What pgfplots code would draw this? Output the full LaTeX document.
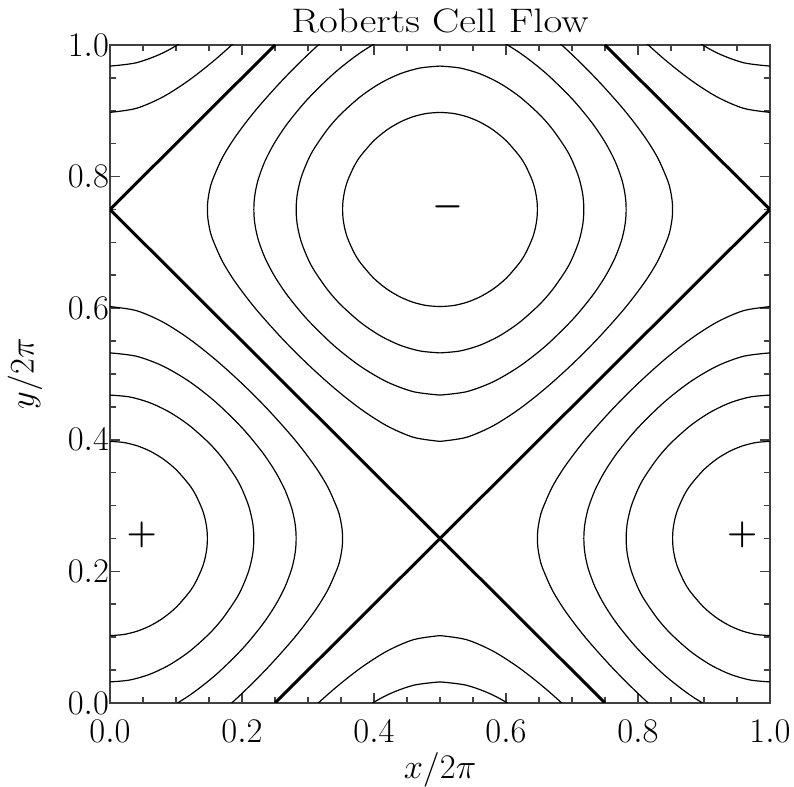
\documentclass[border=0pt]{standalone}
\usepackage{graphicx}
\usepackage{pgfplots}
\usepackage{pgfplotstable}
\pgfplotsset{compat=1.18}

% half contour loops of psi = cos(2 pi x) + sin(2 pi y) around the centre (0,0.25)
% level 1.6
\pgfplotstableread{
x y
0 0.10242
0.02 0.10399
0.04 0.10876
0.06 0.11690
0.08 0.12877
0.10 0.14521
0.12 0.16827
0.13 0.18408
0.14 0.20632
0.14454 0.22222
0.14683 0.23611
0.14758 0.25
0.14683 0.26389
0.14454 0.27778
0.14 0.29368
0.13 0.31592
0.12 0.33173
0.10 0.35479
0.08 0.37123
0.06 0.38310
0.04 0.39124
0.02 0.39601
0 0.39758
}\ca
% level 1.2
\pgfplotstableread{
x y
0 0.03205
0.03 0.03493
0.06 0.04356
0.09 0.05787
0.12 0.07806
0.15 0.10486
0.17 0.12753
0.19 0.15636
0.20 0.17499
0.21 0.20013
0.21548 0.22222
0.21733 0.23611
0.21795 0.25
0.21733 0.26389
0.21548 0.27778
0.21 0.29987
0.20 0.32501
0.19 0.34364
0.17 0.37247
0.15 0.39514
0.12 0.42194
0.09 0.44213
0.06 0.45644
0.03 0.46507
0 0.46795
}\cb
% level 0.8
\pgfplotstableread{
x y
0 -0.03205
0.04 -0.02696
0.08 -0.01216
0.12 0.01131
0.16 0.04255
0.20 0.08169
0.23 0.11786
0.25 0.14758
0.265 0.17612
0.275 0.20285
0.27958 0.22222
0.28143 0.23611
0.28205 0.25
0.28143 0.26389
0.27958 0.27778
0.275 0.29715
0.265 0.32388
0.25 0.35242
0.23 0.38214
0.20 0.41831
0.16 0.45745
0.12 0.48869
0.08 0.51216
0.04 0.52696
0 0.53205
}\cc
% level 0.4
\pgfplotstableread{
x y
0 -0.10242
0.04 -0.09626
0.08 -0.07902
0.12 -0.05335
0.16 -0.02168
0.20 0.01450
0.24 0.05474
0.28 0.09992
0.31 0.13941
0.33 0.17182
0.345 0.20610
0.34941 0.22222
0.35166 0.23611
0.35242 0.25
0.35166 0.26389
0.34941 0.27778
0.345 0.29390
0.33 0.32818
0.31 0.36059
0.28 0.40008
0.24 0.44526
0.20 0.48550
0.16 0.52168
0.12 0.55335
0.08 0.57902
0.04 0.59626
0 0.60242
}\cd

\pgfplotsset{ct/.style={black, line width=0.6pt, smooth, no markers}}

\begin{document}
\begin{tikzpicture}
\begin{axis}[
  scale only axis, width=330pt, height=329pt,
  xmin=0, xmax=1, ymin=0, ymax=1,
  xtick={0,0.2,0.4,0.6,0.8,1.0},
  ytick={0,0.2,0.4,0.6,0.8,1.0},
  minor tick num=3,
  tick align=inside,
  major tick length=5pt, minor tick length=3pt,
  tick style={black!75, line width=0.8pt},
  axis line style={black!75, line width=1pt},
  xticklabel style={font=\fontsize{16}{19}\selectfont, yshift=-5pt},
  yticklabel style={font=\fontsize{16}{19}\selectfont, xshift=3pt},
  xticklabel={\pgfmathprintnumber[fixed,fixed zerofill,precision=1]{\tick}},
  yticklabel={\pgfmathprintnumber[fixed,fixed zerofill,precision=1]{\tick}},
  title={\scalebox{1.2}[1]{Roberts Cell Flow}},
  title style={font=\fontsize{17}{20}\selectfont, at={(axis description cs:0.5,1.0182)}, anchor=center},
  xlabel={$x/2\pi$}, ylabel={$y/2\pi$},
  xlabel style={font=\fontsize{17}{20}\selectfont, at={(axis description cs:0.5,-0.1018)}, anchor=center},
  ylabel style={font=\fontsize{17}{20}\selectfont, at={(axis description cs:-0.1288,0.5)}, anchor=center},
]
% positive levels around (0,0.25) and (1,0.25)
\addplot[ct] table[x=x, y=y] {\ca};
\addplot[ct] table[x expr=1-\thisrow{x}, y=y] {\ca};
\addplot[ct] table[x=x, y=y] {\cb};
\addplot[ct] table[x expr=1-\thisrow{x}, y=y] {\cb};
\addplot[ct] table[x=x, y=y] {\cc};
\addplot[ct] table[x expr=1-\thisrow{x}, y=y] {\cc};
\addplot[ct] table[x=x, y=y] {\cd};
\addplot[ct] table[x expr=1-\thisrow{x}, y=y] {\cd};
% wrapped parts at the top
\addplot[ct] table[x=x, y expr=\thisrow{y}+1] {\cc};
\addplot[ct] table[x expr=1-\thisrow{x}, y expr=\thisrow{y}+1] {\cc};
\addplot[ct] table[x=x, y expr=\thisrow{y}+1] {\cd};
\addplot[ct] table[x expr=1-\thisrow{x}, y expr=\thisrow{y}+1] {\cd};
% negative levels around (0.5,0.75)
\addplot[ct] table[x expr=\thisrow{x}+0.5, y expr=\thisrow{y}+0.5] {\ca};
\addplot[ct] table[x expr=0.5-\thisrow{x}, y expr=\thisrow{y}+0.5] {\ca};
\addplot[ct] table[x expr=\thisrow{x}+0.5, y expr=\thisrow{y}+0.5] {\cb};
\addplot[ct] table[x expr=0.5-\thisrow{x}, y expr=\thisrow{y}+0.5] {\cb};
\addplot[ct] table[x expr=\thisrow{x}+0.5, y expr=\thisrow{y}+0.5] {\cc};
\addplot[ct] table[x expr=0.5-\thisrow{x}, y expr=\thisrow{y}+0.5] {\cc};
\addplot[ct] table[x expr=\thisrow{x}+0.5, y expr=\thisrow{y}+0.5] {\cd};
\addplot[ct] table[x expr=0.5-\thisrow{x}, y expr=\thisrow{y}+0.5] {\cd};
% wrapped parts at the bottom
\addplot[ct] table[x expr=\thisrow{x}+0.5, y expr=\thisrow{y}-0.5] {\cc};
\addplot[ct] table[x expr=0.5-\thisrow{x}, y expr=\thisrow{y}-0.5] {\cc};
\addplot[ct] table[x expr=\thisrow{x}+0.5, y expr=\thisrow{y}-0.5] {\cd};
\addplot[ct] table[x expr=0.5-\thisrow{x}, y expr=\thisrow{y}-0.5] {\cd};
% separatrices (level 0)
\addplot[black, line width=1.5pt] coordinates {(0,0.75) (0.75,0)};
\addplot[black, line width=1.5pt] coordinates {(0.25,0) (1,0.75)};
\addplot[black, line width=1.5pt] coordinates {(0,0.75) (0.25,1)};
\addplot[black, line width=1.5pt] coordinates {(0.75,1) (1,0.75)};
\node[font=\fontsize{19}{22}\selectfont\boldmath] at (axis cs:0.048,0.255) {$+$};
\node[font=\fontsize{19}{22}\selectfont\boldmath] at (axis cs:0.958,0.255) {$+$};
\node[font=\fontsize{19}{22}\selectfont\boldmath] at (axis cs:0.512,0.754) {$-$};
\end{axis}
\pgfresetboundingbox
\path ([xshift=-55pt,yshift=-42pt]current axis.south west) rectangle ([xshift=12pt,yshift=22.5pt]current axis.north east);
\end{tikzpicture}
\end{document}
